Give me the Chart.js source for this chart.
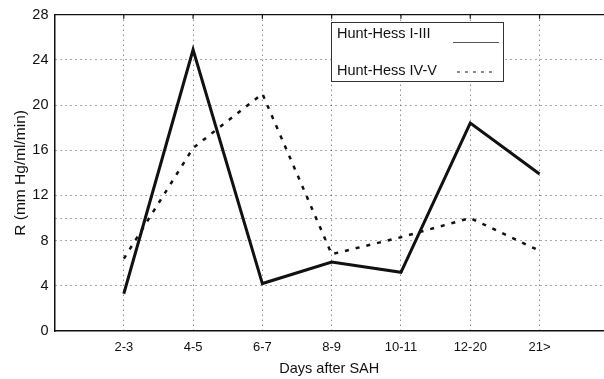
<!DOCTYPE html>
<html>
<head>
<meta charset="utf-8">
<script src="https://cdn.jsdelivr.net/npm/chart.js@4.4.0/dist/chart.umd.min.js"></script>
<style>
  html, body { margin: 0; padding: 0; background: #fff; }
  #wrap { width: 604px; height: 379px; }
</style>
</head>
<body>
<div id="wrap"><canvas id="chart"></canvas></div>
<script>
// data
const days = ['2-3', '4-5', '6-7', '8-9', '10-11', '12-20', '21>'];
const huntHess1to3 = [3.3, 24.9, 4.2, 6.1, 5.2, 18.4, 13.9];
const huntHess4to5 = [6.4, 16.2, 21.0, 6.8, 8.3, 10.0, 7.1];
const yTicks = [0, 4, 8, 10, 12, 16, 20, 24, 28];

const font = 'Arial, "Liberation Sans", Helvetica, sans-serif';
const ink = '#111';

function toPoints(values) {
    return values.map(function(v, i) { return { x: i, y: v }; });
}

// frame top, small top ticks and the boxed legend
const decorations = {
    id: 'decorations',
    afterDraw: function(chart) {
        const ctx = chart.ctx;
        const area = chart.chartArea;
        const xs = chart.scales.x;
        ctx.save();
        ctx.strokeStyle = ink;
        ctx.lineWidth = 1.2;
        ctx.beginPath();
        ctx.moveTo(area.left, area.top);
        ctx.lineTo(area.right, area.top);
        days.forEach(function(d, i) {
            const px = xs.getPixelForValue(i);
            ctx.moveTo(px, area.top);
            ctx.lineTo(px, area.top + 4);
        });
        ctx.stroke();

        // legend box
        ctx.fillStyle = '#fff';
        ctx.fillRect(331, 22, 172, 59);
        ctx.strokeStyle = '#333';
        ctx.lineWidth = 1;
        ctx.strokeRect(331.5, 22.5, 172, 59);
        ctx.fillStyle = ink;
        ctx.font = '14.5px ' + font;
        ctx.textBaseline = 'middle';
        ctx.fillText('Hunt-Hess I-III', 337, 34);
        ctx.fillText('Hunt-Hess IV-V', 337, 71);
        ctx.strokeStyle = '#555';
        ctx.beginPath();
        ctx.moveTo(453, 42.5);
        ctx.lineTo(499, 42.5);
        ctx.stroke();
        ctx.setLineDash([3, 5]);
        ctx.lineWidth = 1.2;
        ctx.strokeStyle = ink;
        ctx.beginPath();
        ctx.moveTo(457, 72);
        ctx.lineTo(497, 72);
        ctx.stroke();
        ctx.restore();
    }
};

const ctx = document.getElementById('chart').getContext('2d');
const chart = new Chart(ctx, {
    type: 'line',
    data: {
        datasets: [{
            label: 'Hunt-Hess I-III',
            data: toPoints(huntHess1to3),
            borderColor: ink,
            borderWidth: 3,
            pointRadius: 0,
            tension: 0
        }, {
            label: 'Hunt-Hess IV-V',
            data: toPoints(huntHess4to5),
            borderColor: ink,
            borderWidth: 2.5,
            borderDash: [4, 7],
            pointRadius: 0,
            tension: 0
        }]
    },
    options: {
        responsive: true,
        maintainAspectRatio: false,
        animation: false,
        events: [],
        layout: { padding: { top: 12, right: 0, left: 0, bottom: 0 } },
        plugins: {
            legend: { display: false },
            tooltip: { enabled: false }
        },
        scales: {
            x: {
                type: 'linear',
                min: -1,
                max: 6.93,
                afterBuildTicks: function(scale) {
                    scale.ticks = days.map(function(d, i) { return { value: i }; });
                },
                afterFit: function(scale) { scale.height = 48; },
                ticks: {
                    color: ink,
                    padding: 9,
                    font: { size: 13, family: font },
                    callback: function(v) { return days[v]; }
                },
                grid: { color: '#555', lineWidth: 1, drawTicks: false },
                border: { color: ink, width: 1.5, dash: [1, 4] },
                title: {
                    display: true,
                    text: 'Days after SAH',
                    color: ink,
                    font: { size: 14.5, family: font },
                    padding: { top: 0, bottom: 1 }
                }
            },
            y: {
                min: 0,
                max: 28,
                afterBuildTicks: function(scale) {
                    scale.ticks = yTicks.map(function(v) { return { value: v }; });
                },
                afterFit: function(scale) { scale.width = 54.5; },
                ticks: {
                    color: ink,
                    padding: 6,
                    font: { size: 14.5, family: font },
                    callback: function(v) { return v === 10 ? '' : v; }
                },
                grid: {
                    drawTicks: false,
                    lineWidth: 1,
                    color: function(c) {
                        const v = c.tick ? c.tick.value : null;
                        return (v === 0 || v === 28) ? 'rgba(0,0,0,0)' : '#555';
                    }
                },
                border: { color: ink, width: 1.5, dash: [1, 4] },
                title: {
                    display: true,
                    text: 'R (mm Hg/ml/min)',
                    color: ink,
                    font: { size: 15.5, family: font },
                    padding: { top: 11, bottom: 0 }
                }
            }
        }
    },
    plugins: [decorations]
});
</script>
</body>
</html>
